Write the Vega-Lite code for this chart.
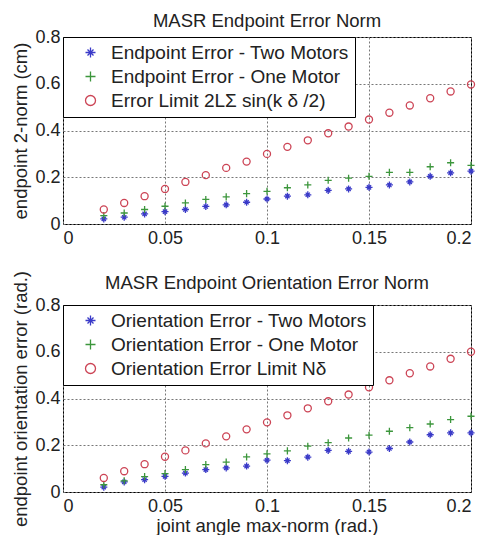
{
  "$schema": "https://vega.github.io/schema/vega-lite/v6.json",
  "background": "white",
  "padding": {"left": 11, "top": 11, "right": 0, "bottom": 0},
  "bounds": "flush",
  "spacing": 81,
  "config": {
    "font": "Liberation Sans",
    "view": {"stroke": "black", "strokeWidth": 1},
    "title": {"fontSize": 18.5, "fontWeight": "normal", "color": "#222"},
    "axis": {
      "domain": false, "ticks": false,
      "labelFontSize": 18, "labelColor": "#222", "labelPadding": 4,
      "titleFontSize": 18.5, "titleFontWeight": "normal", "titleColor": "#222",
      "gridColor": "#777", "gridDash": [2, 2], "gridWidth": 1
    },
    "legend": {
      "orient": "top-left", "offset": 0, "title": null,
      "strokeColor": "black", "fillColor": "white", "padding": 6,
      "labelFontSize": 19, "labelColor": "#222", "labelOffset": 11,
      "symbolOffset": 12, "rowPadding": 4, "symbolStrokeWidth": 1.3, "labelLimit": 400
    }
  },
  "resolve": {"scale": {"color": "independent", "shape": "independent"}, "legend": {"color": "independent", "shape": "independent"}},
  "vconcat": [
    {
      "width": 408, "height": 187,
      "title": {"text": "MASR Endpoint Error Norm", "offset": -2},
      "data": {"values": [
        {"s": "Endpoint Error - Two Motors", "x": 0.02, "y": 0.022}, {"s": "Endpoint Error - Two Motors", "x": 0.03, "y": 0.029}, {"s": "Endpoint Error - Two Motors", "x": 0.04, "y": 0.043}, {"s": "Endpoint Error - Two Motors", "x": 0.05, "y": 0.053}, {"s": "Endpoint Error - Two Motors", "x": 0.06, "y": 0.062}, {"s": "Endpoint Error - Two Motors", "x": 0.07, "y": 0.075}, {"s": "Endpoint Error - Two Motors", "x": 0.08, "y": 0.082}, {"s": "Endpoint Error - Two Motors", "x": 0.09, "y": 0.093}, {"s": "Endpoint Error - Two Motors", "x": 0.10, "y": 0.107}, {"s": "Endpoint Error - Two Motors", "x": 0.11, "y": 0.119}, {"s": "Endpoint Error - Two Motors", "x": 0.12, "y": 0.125}, {"s": "Endpoint Error - Two Motors", "x": 0.13, "y": 0.144}, {"s": "Endpoint Error - Two Motors", "x": 0.14, "y": 0.150}, {"s": "Endpoint Error - Two Motors", "x": 0.15, "y": 0.157}, {"s": "Endpoint Error - Two Motors", "x": 0.16, "y": 0.167}, {"s": "Endpoint Error - Two Motors", "x": 0.17, "y": 0.180}, {"s": "Endpoint Error - Two Motors", "x": 0.18, "y": 0.204}, {"s": "Endpoint Error - Two Motors", "x": 0.19, "y": 0.219}, {"s": "Endpoint Error - Two Motors", "x": 0.20, "y": 0.226},
        {"s": "Endpoint Error - One Motor", "x": 0.02, "y": 0.036}, {"s": "Endpoint Error - One Motor", "x": 0.03, "y": 0.047}, {"s": "Endpoint Error - One Motor", "x": 0.04, "y": 0.062}, {"s": "Endpoint Error - One Motor", "x": 0.05, "y": 0.076}, {"s": "Endpoint Error - One Motor", "x": 0.06, "y": 0.090}, {"s": "Endpoint Error - One Motor", "x": 0.07, "y": 0.105}, {"s": "Endpoint Error - One Motor", "x": 0.08, "y": 0.116}, {"s": "Endpoint Error - One Motor", "x": 0.09, "y": 0.130}, {"s": "Endpoint Error - One Motor", "x": 0.10, "y": 0.140}, {"s": "Endpoint Error - One Motor", "x": 0.11, "y": 0.155}, {"s": "Endpoint Error - One Motor", "x": 0.12, "y": 0.167}, {"s": "Endpoint Error - One Motor", "x": 0.13, "y": 0.187}, {"s": "Endpoint Error - One Motor", "x": 0.14, "y": 0.196}, {"s": "Endpoint Error - One Motor", "x": 0.15, "y": 0.204}, {"s": "Endpoint Error - One Motor", "x": 0.16, "y": 0.221}, {"s": "Endpoint Error - One Motor", "x": 0.17, "y": 0.221}, {"s": "Endpoint Error - One Motor", "x": 0.18, "y": 0.245}, {"s": "Endpoint Error - One Motor", "x": 0.19, "y": 0.262}, {"s": "Endpoint Error - One Motor", "x": 0.20, "y": 0.251},
        {"s": "Error Limit 2LΣ sin(k δ /2)", "x": 0.02, "y": 0.062}, {"s": "Error Limit 2LΣ sin(k δ /2)", "x": 0.03, "y": 0.090}, {"s": "Error Limit 2LΣ sin(k δ /2)", "x": 0.04, "y": 0.119}, {"s": "Error Limit 2LΣ sin(k δ /2)", "x": 0.05, "y": 0.150}, {"s": "Error Limit 2LΣ sin(k δ /2)", "x": 0.06, "y": 0.180}, {"s": "Error Limit 2LΣ sin(k δ /2)", "x": 0.07, "y": 0.209}, {"s": "Error Limit 2LΣ sin(k δ /2)", "x": 0.08, "y": 0.240}, {"s": "Error Limit 2LΣ sin(k δ /2)", "x": 0.09, "y": 0.267}, {"s": "Error Limit 2LΣ sin(k δ /2)", "x": 0.10, "y": 0.300}, {"s": "Error Limit 2LΣ sin(k δ /2)", "x": 0.11, "y": 0.330}, {"s": "Error Limit 2LΣ sin(k δ /2)", "x": 0.12, "y": 0.358}, {"s": "Error Limit 2LΣ sin(k δ /2)", "x": 0.13, "y": 0.388}, {"s": "Error Limit 2LΣ sin(k δ /2)", "x": 0.14, "y": 0.417}, {"s": "Error Limit 2LΣ sin(k δ /2)", "x": 0.15, "y": 0.447}, {"s": "Error Limit 2LΣ sin(k δ /2)", "x": 0.16, "y": 0.476}, {"s": "Error Limit 2LΣ sin(k δ /2)", "x": 0.17, "y": 0.507}, {"s": "Error Limit 2LΣ sin(k δ /2)", "x": 0.18, "y": 0.538}, {"s": "Error Limit 2LΣ sin(k δ /2)", "x": 0.19, "y": 0.567}, {"s": "Error Limit 2LΣ sin(k δ /2)", "x": 0.20, "y": 0.597}
      ]},
      "mark": {"type": "point", "filled": false, "strokeWidth": 1.3, "size": 50, "opacity": 1},
      "encoding": {
        "x": {"field": "x", "type": "quantitative", "scale": {"domain": [0, 0.2], "nice": false},
              "axis": {"values": [0, 0.05, 0.1, 0.15, 0.2], "format": "~g", "title": null, "labelPadding": 5}},
        "y": {"field": "y", "type": "quantitative", "scale": {"domain": [0, 0.8], "nice": false},
              "axis": {"values": [0, 0.2, 0.4, 0.6, 0.8], "format": "~g", "title": "endpoint 2-norm (cm)", "labelPadding": 3, "titlePadding": 4}},
        "color": {"field": "s", "type": "nominal",
                  "scale": {"domain": ["Endpoint Error - Two Motors", "Endpoint Error - One Motor", "Error Limit 2LΣ sin(k δ /2)"], "range": ["#3a3ac8", "#3c963c", "#cc4455"]}},
        "shape": {"field": "s", "type": "nominal",
                  "scale": {"domain": ["Endpoint Error - Two Motors", "Endpoint Error - One Motor", "Error Limit 2LΣ sin(k δ /2)"],
                            "range": ["M-1,0L1,0M0,-1L0,1M-0.6,-0.6L0.6,0.6M-0.6,0.6L0.6,-0.6", "M-1,0L1,0M0,-1L0,1", "circle"]}}
      }
    },
    {
      "width": 408, "height": 187,
      "title": {"text": "MASR Endpoint Orientation Error Norm", "offset": -22},
      "data": {"values": [
        {"s": "Orientation Error - Two Motors", "x": 0.02, "y": 0.021}, {"s": "Orientation Error - Two Motors", "x": 0.03, "y": 0.043}, {"s": "Orientation Error - Two Motors", "x": 0.04, "y": 0.053}, {"s": "Orientation Error - Two Motors", "x": 0.05, "y": 0.067}, {"s": "Orientation Error - Two Motors", "x": 0.06, "y": 0.081}, {"s": "Orientation Error - Two Motors", "x": 0.07, "y": 0.096}, {"s": "Orientation Error - Two Motors", "x": 0.08, "y": 0.103}, {"s": "Orientation Error - Two Motors", "x": 0.09, "y": 0.111}, {"s": "Orientation Error - Two Motors", "x": 0.10, "y": 0.136}, {"s": "Orientation Error - Two Motors", "x": 0.11, "y": 0.134}, {"s": "Orientation Error - Two Motors", "x": 0.12, "y": 0.149}, {"s": "Orientation Error - Two Motors", "x": 0.13, "y": 0.178}, {"s": "Orientation Error - Two Motors", "x": 0.14, "y": 0.174}, {"s": "Orientation Error - Two Motors", "x": 0.15, "y": 0.171}, {"s": "Orientation Error - Two Motors", "x": 0.16, "y": 0.186}, {"s": "Orientation Error - Two Motors", "x": 0.17, "y": 0.214}, {"s": "Orientation Error - Two Motors", "x": 0.18, "y": 0.245}, {"s": "Orientation Error - Two Motors", "x": 0.19, "y": 0.253}, {"s": "Orientation Error - Two Motors", "x": 0.20, "y": 0.253},
        {"s": "Orientation Error - One Motor", "x": 0.02, "y": 0.031}, {"s": "Orientation Error - One Motor", "x": 0.03, "y": 0.048}, {"s": "Orientation Error - One Motor", "x": 0.04, "y": 0.066}, {"s": "Orientation Error - One Motor", "x": 0.05, "y": 0.079}, {"s": "Orientation Error - One Motor", "x": 0.06, "y": 0.096}, {"s": "Orientation Error - One Motor", "x": 0.07, "y": 0.117}, {"s": "Orientation Error - One Motor", "x": 0.08, "y": 0.128}, {"s": "Orientation Error - One Motor", "x": 0.09, "y": 0.150}, {"s": "Orientation Error - One Motor", "x": 0.10, "y": 0.163}, {"s": "Orientation Error - One Motor", "x": 0.11, "y": 0.176}, {"s": "Orientation Error - One Motor", "x": 0.12, "y": 0.196}, {"s": "Orientation Error - One Motor", "x": 0.13, "y": 0.211}, {"s": "Orientation Error - One Motor", "x": 0.14, "y": 0.231}, {"s": "Orientation Error - One Motor", "x": 0.15, "y": 0.243}, {"s": "Orientation Error - One Motor", "x": 0.16, "y": 0.260}, {"s": "Orientation Error - One Motor", "x": 0.17, "y": 0.275}, {"s": "Orientation Error - One Motor", "x": 0.18, "y": 0.291}, {"s": "Orientation Error - One Motor", "x": 0.19, "y": 0.310}, {"s": "Orientation Error - One Motor", "x": 0.20, "y": 0.324},
        {"s": "Orientation Error Limit Nδ", "x": 0.02, "y": 0.060}, {"s": "Orientation Error Limit Nδ", "x": 0.03, "y": 0.089}, {"s": "Orientation Error Limit Nδ", "x": 0.04, "y": 0.119}, {"s": "Orientation Error Limit Nδ", "x": 0.05, "y": 0.151}, {"s": "Orientation Error Limit Nδ", "x": 0.06, "y": 0.178}, {"s": "Orientation Error Limit Nδ", "x": 0.07, "y": 0.208}, {"s": "Orientation Error Limit Nδ", "x": 0.08, "y": 0.238}, {"s": "Orientation Error Limit Nδ", "x": 0.09, "y": 0.268}, {"s": "Orientation Error Limit Nδ", "x": 0.10, "y": 0.298}, {"s": "Orientation Error Limit Nδ", "x": 0.11, "y": 0.328}, {"s": "Orientation Error Limit Nδ", "x": 0.12, "y": 0.358}, {"s": "Orientation Error Limit Nδ", "x": 0.13, "y": 0.388}, {"s": "Orientation Error Limit Nδ", "x": 0.14, "y": 0.417}, {"s": "Orientation Error Limit Nδ", "x": 0.15, "y": 0.448}, {"s": "Orientation Error Limit Nδ", "x": 0.16, "y": 0.478}, {"s": "Orientation Error Limit Nδ", "x": 0.17, "y": 0.508}, {"s": "Orientation Error Limit Nδ", "x": 0.18, "y": 0.537}, {"s": "Orientation Error Limit Nδ", "x": 0.19, "y": 0.570}, {"s": "Orientation Error Limit Nδ", "x": 0.20, "y": 0.600}
      ]},
      "mark": {"type": "point", "filled": false, "strokeWidth": 1.3, "size": 50, "opacity": 1},
      "encoding": {
        "x": {"field": "x", "type": "quantitative", "scale": {"domain": [0, 0.2], "nice": false},
              "axis": {"values": [0, 0.05, 0.1, 0.15, 0.2], "format": "~g", "title": "joint angle max-norm (rad.)", "labelPadding": 5, "titlePadding": 1}},
        "y": {"field": "y", "type": "quantitative", "scale": {"domain": [0, 0.8], "nice": false},
              "axis": {"values": [0, 0.2, 0.4, 0.6, 0.8], "format": "~g", "title": "endpoint orientation error (rad.)", "labelPadding": 3, "titlePadding": 4}},
        "color": {"field": "s", "type": "nominal",
                  "scale": {"domain": ["Orientation Error - Two Motors", "Orientation Error - One Motor", "Orientation Error Limit Nδ"], "range": ["#3a3ac8", "#3c963c", "#cc4455"]}},
        "shape": {"field": "s", "type": "nominal",
                  "scale": {"domain": ["Orientation Error - Two Motors", "Orientation Error - One Motor", "Orientation Error Limit Nδ"],
                            "range": ["M-1,0L1,0M0,-1L0,1M-0.6,-0.6L0.6,0.6M-0.6,0.6L0.6,-0.6", "M-1,0L1,0M0,-1L0,1", "circle"]}}
      }
    }
  ]
}
